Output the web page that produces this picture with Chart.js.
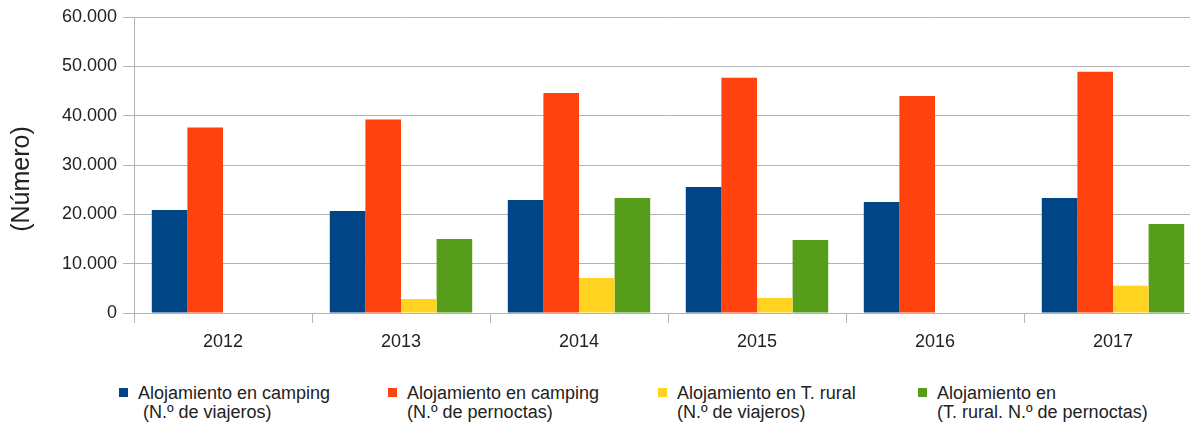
<!DOCTYPE html>
<html lang="es">
<head>
<meta charset="utf-8">
<script src="https://cdn.jsdelivr.net/npm/chart.js@4.4.1/dist/chart.umd.min.js"></script>
<style>
  html, body { margin: 0; padding: 0; background: #fff; overflow: hidden; }
  body { width: 1190px; height: 423px; position: relative; font-family: "Liberation Sans", Arial, sans-serif; }
  #wrap { position: absolute; left: 0; top: 0; width: 1202px; height: 363px; }
  .leg { position: absolute; top: 384px; font-size: 18px; line-height: 19px; color: #222; white-space: pre; }
  .leg i { position: absolute; left: -19px; top: 4px; width: 9px; height: 9px; }
</style>
</head>
<body>
<div id="wrap"><canvas id="chart"></canvas></div>
<div id="legend"></div>
<script>
// Años
const years = ['2012', '2013', '2014', '2015', '2016', '2017'];

// Series (número)
const campingViajeros = [20900, 20700, 22900, 25550, 22500, 23300];
const campingPernoctas = [37600, 39200, 44600, 47700, 44000, 48900];
const ruralViajeros = [null, 2850, 7100, 3050, null, 5500];
const ruralPernoctas = [null, 15000, 23300, 14800, null, 18050];

const seriesLabels = [
  ['Alojamiento en camping', ' (N.º de viajeros)'],
  ['Alojamiento en camping', '(N.º de pernoctas)'],
  ['Alojamiento en T. rural', '(N.º de viajeros)'],
  ['Alojamiento en', '(T. rural. N.º de pernoctas)']
];
const seriesColors = ['#004586', '#ff420e', '#ffd320', '#579d1c'];
const legendX = [138, 407, 677, 937];

const yTicksMax = 60000;
const yTicksStep = 10000;
const yTitle = '(Número)';

const fmt = v => String(v).replace(/\B(?=(\d{3})+(?!\d))/g, '.');

// Título vertical del eje Y
const yTitlePlugin = {
  id: 'yTitle',
  afterDraw(chart) {
    const c = chart.ctx;
    c.save();
    c.translate(22, 179);
    c.rotate(-Math.PI / 2);
    c.font = '25px "Liberation Sans", Arial, sans-serif';
    c.fillStyle = '#222';
    c.textAlign = 'center';
    c.textBaseline = 'middle';
    c.fillText(yTitle, 0, 0);
    c.restore();
  }
};

const data = [campingViajeros, campingPernoctas, ruralViajeros, ruralPernoctas];

new Chart(document.getElementById('chart'), {
  type: 'bar',
  data: {
    labels: years,
    datasets: data.map((d, i) => ({
      label: seriesLabels[i].join(' '),
      data: d,
      backgroundColor: seriesColors[i],
      borderWidth: 0,
      categoryPercentage: 0.8,
      barPercentage: 1.0
    }))
  },
  options: {
    responsive: true,
    maintainAspectRatio: false,
    animation: false,
    layout: { padding: { top: 17, left: 0, right: 0, bottom: 0 } },
    plugins: { legend: { display: false }, tooltip: { enabled: false } },
    scales: {
      x: {
        offset: true,
        grid: { offset: true, drawOnChartArea: false, drawTicks: true, tickLength: 10, color: '#b3b3b3', lineWidth: 1 },
        border: { display: true, color: '#b3b3b3', width: 1 },
        ticks: { color: '#222', font: { size: 18, family: '"Liberation Sans", Arial, sans-serif' }, padding: 8 },
        afterFit: s => { s.height = 50; }
      },
      y: {
        min: 0,
        max: yTicksMax,
        ticks: {
          stepSize: yTicksStep,
          color: '#222',
          font: { size: 18, family: '"Liberation Sans", Arial, sans-serif' },
          padding: 6,
          callback: v => fmt(v)
        },
        grid: { color: '#b3b3b3', lineWidth: 1, tickLength: 11 },
        border: { display: true, color: '#b3b3b3', width: 1 },
        afterFit: s => { s.width = 134; }
      }
    }
  },
  plugins: [yTitlePlugin]
});

// Leyenda en dos líneas
const legendEl = document.getElementById('legend');
seriesLabels.forEach((lines, i) => {
  const div = document.createElement('div');
  div.className = 'leg';
  div.style.left = legendX[i] + 'px';
  div.textContent = lines.join('\n');
  const sq = document.createElement('i');
  sq.style.background = seriesColors[i];
  div.appendChild(sq);
  legendEl.appendChild(div);
});
</script>
</body>
</html>
